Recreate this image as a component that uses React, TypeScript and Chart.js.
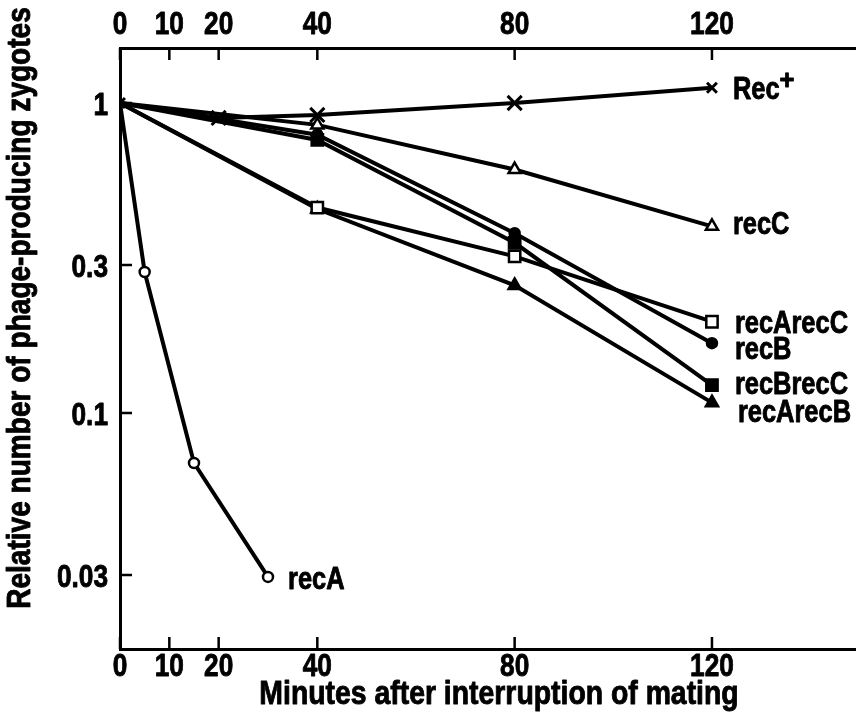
import React, { useEffect, useRef } from "react";
import { Chart, registerables } from "chart.js";

Chart.register(...registerables);

const FONT = '"Liberation Sans", Arial, sans-serif';

// ---- data ----
const X_TICKS = [0, 10, 20, 40, 80, 120];
const X_TICK_LABELS = ["0", "10", "20", "40", "80", "120"];
const Y_TICKS = [1, 0.3, 0.1, 0.03];
const Y_TICK_LABELS = ["1", "0.3", "0.1", "0.03"];

const recPlusMinutes = [0, 20, 40, 80, 120];
const recPlusValues = [1, 0.895, 0.915, 1.0, 1.12];

const mutantMinutes = [0, 40, 80, 120];
const recCValues = [1, 0.85, 0.61, 0.4];
const recArecCValues = [1, 0.46, 0.32, 0.197];
const recBValues = [1, 0.79, 0.38, 0.168];
const recBrecCValues = [1, 0.76, 0.354, 0.123];
const recArecBValues = [1, 0.455, 0.258, 0.108];

const recAMinutes = [0, 5, 15, 30];
const recAValues = [1, 0.285, 0.069, 0.0296];

const X_TITLE = "Minutes after interruption of mating";
const Y_TITLE = "Relative number of phage-producing zygotes";

// ---- styles (kept separate from data) ----
type Series = {
  label: string;
  minutes: number[];
  values: number[];
  pointStyle: string;
  filled: boolean;
  radius: number;
  labelDx: number;
  labelDy: number;
};

const SERIES: Series[] = [
  { label: "Rec+", minutes: recPlusMinutes, values: recPlusValues, pointStyle: "crossRot", filled: true, radius: 10, labelDx: 21, labelDy: 0 },
  { label: "recC", minutes: mutantMinutes, values: recCValues, pointStyle: "triangle", filled: false, radius: 7, labelDx: 21, labelDy: -3 },
  { label: "recArecC", minutes: mutantMinutes, values: recArecCValues, pointStyle: "rect", filled: false, radius: 8, labelDx: 23, labelDy: 0 },
  { label: "recB", minutes: mutantMinutes, values: recBValues, pointStyle: "circle", filled: true, radius: 5, labelDx: 23, labelDy: 5 },
  { label: "recBrecC", minutes: mutantMinutes, values: recBrecCValues, pointStyle: "rect", filled: true, radius: 8, labelDx: 23, labelDy: -2 },
  { label: "recArecB", minutes: mutantMinutes, values: recArecBValues, pointStyle: "triangle", filled: true, radius: 7, labelDx: 26, labelDy: 8 },
  { label: "recA", minutes: recAMinutes, values: recAValues, pointStyle: "circle", filled: false, radius: 5, labelDx: 20, labelDy: 1 },
];

const SX = 0.82; // horizontal condensing of the lettering

function drawText(
  ctx: CanvasRenderingContext2D,
  text: string,
  x: number,
  y: number,
  size: number,
  align: CanvasTextAlign,
  sx = SX
) {
  ctx.save();
  ctx.translate(x, y);
  ctx.scale(sx, 1);
  ctx.font = `bold ${size}px ${FONT}`;
  ctx.fillStyle = "#000";
  ctx.strokeStyle = "#000";
  ctx.lineWidth = 0.9;
  ctx.lineJoin = "round";
  ctx.textAlign = align;
  ctx.textBaseline = "alphabetic";
  ctx.fillText(text, 0, 0);
  ctx.strokeText(text, 0, 0);
  ctx.restore();
}

const axisDecor = {
  id: "axisDecor",
  afterDraw(chart: any) {
    const { ctx, chartArea } = chart;
    const len = 12;
    const xs = chart.scales.x;
    const xt = chart.scales.x2;
    const ys = chart.scales.y;
    ctx.save();
    ctx.strokeStyle = "#000";
    ctx.lineWidth = 2.5;
    ctx.beginPath();
    xs.ticks.forEach((t: any) => {
      const px = xs.getPixelForValue(t.value);
      ctx.moveTo(px, chartArea.bottom);
      ctx.lineTo(px, chartArea.bottom - len);
    });
    xt.ticks.forEach((t: any) => {
      const px = xt.getPixelForValue(t.value);
      ctx.moveTo(px, chartArea.top);
      ctx.lineTo(px, chartArea.top + len);
    });
    ys.ticks.forEach((t: any) => {
      const py = ys.getPixelForValue(t.value);
      ctx.moveTo(chartArea.left, py);
      ctx.lineTo(chartArea.left + len, py);
    });
    ctx.stroke();
    ctx.restore();

    // tick labels
    const tickSize = 32;
    const half = 11.5;
    xs.ticks.forEach((t: any, i: number) => {
      const px = xs.getPixelForValue(t.value);
      drawText(ctx, X_TICK_LABELS[i], px, chartArea.bottom + 15 + half, tickSize, "center");
    });
    xt.ticks.forEach((t: any, i: number) => {
      const px = xt.getPixelForValue(t.value);
      drawText(ctx, X_TICK_LABELS[i], px, chartArea.top - 26 + half, tickSize, "center");
    });
    ys.ticks.forEach((t: any, i: number) => {
      const py = ys.getPixelForValue(t.value);
      drawText(ctx, Y_TICK_LABELS[i], chartArea.left - 12, py + half, tickSize, "right");
    });

    // axis titles
    drawText(ctx, X_TITLE, 499, 704, 33, "center", 0.86);
    ctx.save();
    ctx.translate(18, 308);
    ctx.rotate(-Math.PI / 2);
    drawText(ctx, Y_TITLE, 0, 12, 33, "center", 0.85);
    ctx.restore();
  },
};

const endLabels = {
  id: "endLabels",
  afterDatasetsDraw(chart: any) {
    const { ctx } = chart;
    SERIES.forEach((s, i) => {
      const meta = chart.getDatasetMeta(i);
      const pt = meta.data[meta.data.length - 1];
      const x = pt.x + s.labelDx;
      const y = pt.y + s.labelDy + 11;
      if (s.label === "Rec+") {
        drawText(ctx, "Rec", x, y, 31, "left");
        ctx.save();
        ctx.font = `bold 31px ${FONT}`;
        const w = ctx.measureText("Rec").width * SX;
        ctx.restore();
        drawText(ctx, "+", x + w, y - 10, 27, "left", 0.95);
      } else {
        drawText(ctx, s.label, x, y, 31, "left");
      }
    });
  },
};

export default function App() {
  const ref = useRef<HTMLCanvasElement | null>(null);

  useEffect(() => {
    if (!ref.current) return;
    const datasets = SERIES.map((s) => ({
      label: s.label,
      data: s.minutes.map((m, k) => ({ x: m, y: s.values[k] })),
      borderColor: "#000",
      borderWidth: 4,
      pointStyle: s.pointStyle,
      pointRadius: (c: any) => {
        if (s.label === "Rec+") {
          return c.dataIndex === s.minutes.length - 1 || c.dataIndex === 0 ? 7 : s.radius;
        }
        return c.dataIndex === 0 ? 0 : s.radius;
      },
      pointBorderWidth: s.label === "Rec+" ? 3 : 2.5,
      pointBorderColor: "#000",
      pointBackgroundColor: s.filled ? "#000" : "#fff",
      fill: false,
      tension: 0,
    }));

    const setXTicks = (axis: any) => {
      axis.ticks = X_TICKS.map((v) => ({ value: v }));
    };

    const chart = new Chart(ref.current, {
      type: "line",
      data: { datasets: datasets as any },
      plugins: [axisDecor, endLabels],
      options: {
        animation: false,
        responsive: false,
        maintainAspectRatio: false,
        layout: { padding: 0, autoPadding: false },
        plugins: { legend: { display: false }, tooltip: { enabled: false } },
        scales: {
          x: {
            type: "linear",
            position: "bottom",
            min: 0,
            max: 149.2,
            afterBuildTicks: setXTicks,
            afterFit: (s: any) => { s.height = 71; },
            grid: { display: false, drawTicks: false },
            border: { display: true, color: "#000", width: 3 },
            ticks: { display: false },
          },
          x2: {
            type: "linear",
            position: "top",
            min: 0,
            max: 149.2,
            afterBuildTicks: setXTicks,
            afterFit: (s: any) => { s.height = 48; },
            grid: { display: false, drawTicks: false },
            border: { display: true, color: "#000", width: 3 },
            ticks: { display: false },
          },
          y: {
            type: "logarithmic",
            position: "left",
            min: 0.017328,
            max: 1.5046,
            afterBuildTicks: (axis: any) => {
              axis.ticks = Y_TICKS.map((v) => ({ value: v }));
            },
            afterFit: (s: any) => { s.width = 120; },
            grid: { display: false, drawTicks: false },
            border: { display: true, color: "#000", width: 3 },
            ticks: { display: false },
          },
        },
      } as any,
    });
    return () => chart.destroy();
  }, []);

  return (
    <div style={{ position: "absolute", left: 0, top: 0, width: 856, height: 720, background: "#fff" }}>
      <canvas ref={ref} width={856} height={720} style={{ width: 856, height: 720, display: "block" }} />
    </div>
  );
}
